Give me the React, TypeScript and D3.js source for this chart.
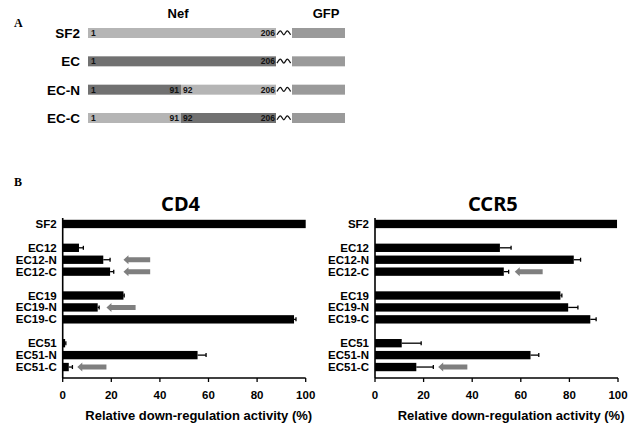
import React from 'react';
import * as d3 from 'd3';

// ---- Panel A: Nef constructs
const constructs = ['SF2', 'EC', 'EC-N', 'EC-C'];
// segments per construct: [start residue, end residue, source]
const segments: [number, number, string][][] = [
  [[1, 206, 'SF2']],
  [[1, 206, 'EC']],
  [[1, 91, 'EC'], [92, 206, 'SF2']],
  [[1, 91, 'SF2'], [92, 206, 'EC']],
];

// ---- Panel B: bar charts
const categories = ['SF2', '', 'EC12', 'EC12-N', 'EC12-C', ' ', 'EC19', 'EC19-N', 'EC19-C', '  ', 'EC51', 'EC51-N', 'EC51-C'];
const cd4Values = [100, null, 6.7, 16.7, 19.5, null, 25, 14.4, 95.2, null, 1, 55.5, 2.5];
const cd4Errors = [0, null, 1.8, 2.8, 1.5, null, 0.3, 0.6, 0.8, null, 0.3, 3.5, 1.5];
const ccr5Values = [99.6, null, 51.4, 81.8, 53, null, 76.3, 79.5, 88.6, null, 11, 64, 17];
const ccr5Errors = [0, null, 4.6, 2.8, 2, null, 0.6, 4, 2.4, null, 8, 3.4, 7];
// arrows: [category, tip value, tail value]
const cd4Arrows: [string, number, number][] = [['EC12-N', 25, 36], ['EC12-C', 25, 36], ['EC19-N', 18, 30], ['EC51-C', 6, 18]];
const ccr5Arrows: [string, number, number][] = [['EC12-C', 57.5, 69], ['EC51-C', 26, 38]];
const xTicks = [0, 20, 40, 60, 80, 100];

const LABEL_FONT = 'Liberation Sans, Arial, sans-serif';
const segColor: Record<string, string> = { SF2: '#b5b5b5', EC: '#717171' };

function ConstructPanel() {
  const y = d3.scalePoint<string>().domain(constructs).range([33, 118]);
  const x = d3.scaleLinear().domain([1, 91.5, 206]).range([88, 181, 276]);
  const wave = d3.line<[number, number]>().curve(d3.curveCardinal);
  return (
    <g>
      <text x={14} y={27} fontFamily="Liberation Serif, serif" fontWeight="bold" fontSize={12}>A</text>
      <text x={178} y={18} textAnchor="middle" fontFamily={LABEL_FONT} fontWeight="bold" fontSize={13}>Nef</text>
      <text x={326} y={18} textAnchor="middle" fontFamily={LABEL_FONT} fontWeight="bold" fontSize={13}>GFP</text>
      {constructs.map((c, i) => {
        const cy = y(c)!;
        const segs = segments[i];
        const waveX0 = x(206) + 1;
        const pts: [number, number][] = d3.range(5).map(k => [waveX0 + k * 3.4, cy + (k % 2 === 0 ? 1.8 : -2.2)]);
        return (
          <g key={c}>
            <text x={80} y={cy + 5} textAnchor="end" fontFamily={LABEL_FONT} fontWeight="bold" fontSize={13.5}>{c}</text>
            {segs.map(([s, e, src]) => (
              <rect key={s} x={x(s === 1 ? 1 : s - 0.5)} y={cy - 5} width={x(e === 206 ? 206 : e + 0.5) - x(s === 1 ? 1 : s - 0.5)} height={10} fill={segColor[src]} />
            ))}
            {segs.map(([s, e]) => (
              <g key={'t' + s} fontFamily={LABEL_FONT} fontWeight="bold" fontSize={8.5} fill="#111">
                <text x={s === 1 ? x(1) + 3 : x(s - 0.5) + 2} y={cy + 3}>{s}</text>
                <text x={e === 206 ? x(206) - 1 : x(e + 0.5) - 2} y={cy + 3} textAnchor="end">{e}</text>
              </g>
            ))}
            <path d={wave(pts) || ''} fill="none" stroke="#111" strokeWidth={1.3} />
            <rect x={292} y={cy - 5} width={53} height={10} fill="#9a9a9a" />
          </g>
        );
      })}
    </g>
  );
}

function BarPanel({ title, values, errors, arrows, x0 }: { title: string; values: (number | null)[]; errors: (number | null)[]; arrows: [string, number, number][]; x0: number }) {
  const x = d3.scaleLinear().domain([0, 100]).range([x0, x0 + 243]);
  const y = d3.scaleBand<string>().domain(categories).range([218, 373]).paddingInner(0.3).paddingOuter(0.15);
  const axisY = 378;
  const bw = y.bandwidth();
  return (
    <g>
      <text x={x(48.5)} y={211} textAnchor="middle" fontFamily="Noto Sans, sans-serif" fontWeight="bold" fontSize={20}>{title}</text>
      {categories.map((c, i) => {
        const v = values[i];
        if (v == null) return null;
        const yy = y(c)!;
        const cy = yy + bw / 2;
        const e = errors[i] ?? 0;
        return (
          <g key={c}>
            <text x={x0 - 6} y={cy + 4} textAnchor="end" fontFamily={LABEL_FONT} fontWeight="bold" fontSize={11.5}>{c}</text>
            <rect x={x(0)} y={yy} width={x(v) - x(0)} height={bw} fill="#000" />
            {e > 0 && (
              <g stroke="#000" strokeWidth={1.3}>
                <line x1={x(v)} x2={x(v + e)} y1={cy} y2={cy} />
                <line x1={x(v + e)} x2={x(v + e)} y1={cy - 2} y2={cy + 2} />
              </g>
            )}
          </g>
        );
      })}
      {arrows.map(([c, tip, tail]) => {
        const cy = y(c)! + bw / 2;
        const xt = x(tip);
        const xh = xt + 5;
        const xe = x(tail);
        const pts = [[xt, cy], [xh, cy - 4.5], [xh, cy - 2.5], [xe, cy - 2.5], [xe, cy + 2.5], [xh, cy + 2.5], [xh, cy + 4.5]];
        return <polygon key={'a' + c} points={pts.map(p => p.join(',')).join(' ')} fill="#7f7f7f" />;
      })}
      <line x1={x0} x2={x0} y1={218} y2={axisY} stroke="#000" strokeWidth={1.6} />
      <line x1={x0} x2={x(100)} y1={axisY} y2={axisY} stroke="#000" strokeWidth={1.6} />
      {xTicks.map(t => (
        <g key={t}>
          <line x1={x(t)} x2={x(t)} y1={axisY} y2={axisY + 4} stroke="#000" strokeWidth={1.3} />
          <text x={x(t)} y={axisY + 21} textAnchor="middle" fontFamily={LABEL_FONT} fontWeight="bold" fontSize={11.5}>{t}</text>
        </g>
      ))}
      <text x={x(56)} y={420} textAnchor="middle" fontFamily={LABEL_FONT} fontWeight="bold" fontSize={13}>Relative down-regulation  activity (%)</text>
    </g>
  );
}

export default function App() {
  return (
    <svg width={643} height={428} style={{ position: 'absolute', left: 0, top: 0, background: '#fff' }}>
      <rect width={643} height={428} fill="#fff" />
      <ConstructPanel />
      <text x={14} y={186} fontFamily="Liberation Serif, serif" fontWeight="bold" fontSize={12}>B</text>
      <BarPanel title="CD4" values={cd4Values} errors={cd4Errors} arrows={cd4Arrows} x0={62.7} />
      <BarPanel title="CCR5" values={ccr5Values} errors={ccr5Errors} arrows={ccr5Arrows} x0={375} />
    </svg>
  );
}
